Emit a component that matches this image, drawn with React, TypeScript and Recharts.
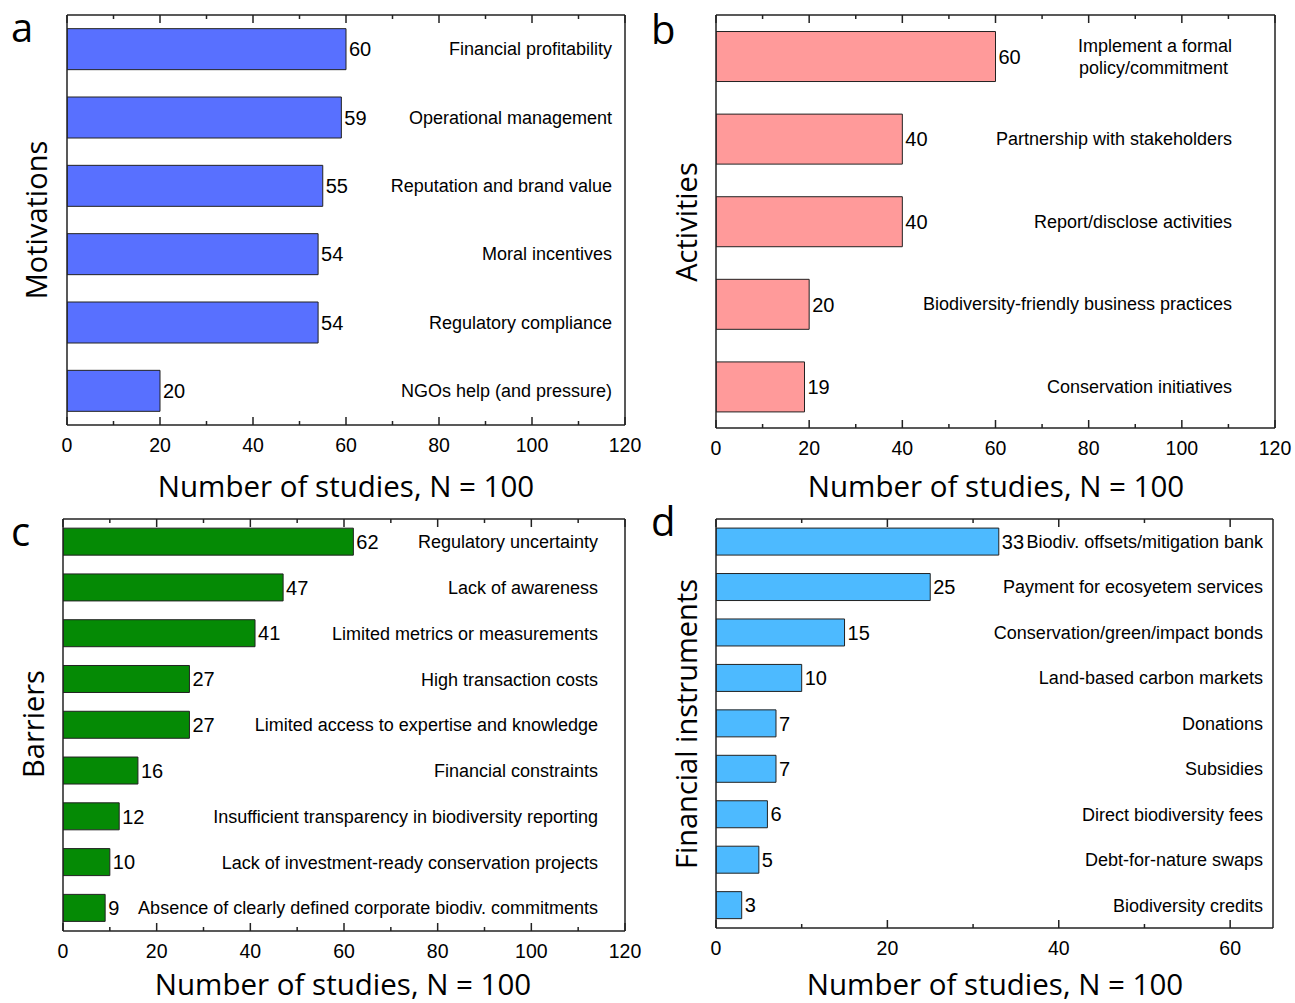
import React from 'react';
import { BarChart, Bar, XAxis, YAxis, LabelList } from 'recharts';

const motivationNames = [
  'Financial profitability',
  'Operational management',
  'Reputation and brand value',
  'Moral incentives',
  'Regulatory compliance',
  'NGOs help (and pressure)',
];
const motivationValues = [60, 59, 55, 54, 54, 20];

const activityNames = [
  'Implement a formal\npolicy/commitment',
  'Partnership with stakeholders',
  'Report/disclose activities',
  'Biodiversity-friendly business practices',
  'Conservation initiatives',
];
const activityValues = [60, 40, 40, 20, 19];

const barrierNames = [
  'Regulatory uncertainty',
  'Lack of awareness',
  'Limited metrics or measurements',
  'High transaction costs',
  'Limited access to expertise and knowledge',
  'Financial constraints',
  'Insufficient transparency in biodiversity reporting',
  'Lack of investment-ready conservation projects',
  'Absence of clearly defined corporate biodiv. commitments',
];
const barrierValues = [62, 47, 41, 27, 27, 16, 12, 10, 9];

const instrumentNames = [
  'Biodiv. offsets/mitigation bank',
  'Payment for ecosyetem services',
  'Conservation/green/impact bonds',
  'Land-based carbon markets',
  'Donations',
  'Subsidies',
  'Direct biodiversity fees',
  'Debt-for-nature swaps',
  'Biodiversity credits',
];
const instrumentValues = [33, 25, 15, 10, 7, 7, 6, 5, 3];

const ticksTo120 = [0, 10, 20, 30, 40, 50, 60, 70, 80, 90, 100, 110, 120];
const ticksTo60 = [0, 10, 20, 30, 40, 50, 60];

const xTitle = 'Number of studies, N = 100';
const FRAME = '#222';
const CHART_FONT = '"Liberation Sans", Arial, sans-serif';
const TITLE_FONT = '"Open Sans", "Liberation Sans", sans-serif';

function BottomTick(props: any) {
  const { x, y, payload } = props;
  const major = payload.value % 20 === 0;
  return (
    <g>
      <line x1={x} x2={x} y1={y} y2={y - (major ? 8 : 4)} stroke={FRAME} strokeWidth={1.5} />
      {major && (
        <text x={x} y={y + 27} textAnchor="middle" fontSize={19.5} fill="#000" fontFamily={CHART_FONT}>
          {payload.value}
        </text>
      )}
    </g>
  );
}

function TopTick(props: any) {
  const { x, y, payload } = props;
  const major = payload.value % 20 === 0;
  return <line x1={x} x2={x} y1={y} y2={y + (major ? 8 : 4)} stroke={FRAME} strokeWidth={1.5} />;
}

function CategoryTick(props: any) {
  const { x, y, payload, inset } = props;
  const lines = String(payload.value).split('\n');
  const gap = 22;
  const start = y - ((lines.length - 1) * gap) / 2;
  return (
    <text textAnchor="end" fontSize={18} fill="#000" fontFamily={CHART_FONT}>
      {lines.map((line, i) => (
        <tspan key={i} x={x - inset - (i > 0 ? 4 : 0)} y={start + i * gap} dy="0.35em">
          {line}
        </tspan>
      ))}
    </text>
  );
}

function ValueLabel(props: any) {
  const { x, y, width, height, value } = props;
  return (
    <text
      x={x + width + 3}
      y={y + height / 2}
      dy="0.36em"
      fontSize={20}
      fill="#000"
      fontFamily={CHART_FONT}
    >
      {value}
    </text>
  );
}

interface PanelProps {
  names: string[];
  values: number[];
  color: string;
  left: number;
  top: number;
  width: number;
  height: number;
  margin: { top: number; right: number; bottom: number; left: number };
  domain: [number, number];
  ticks: number[];
  labelInset: number;
}

// axes take 1px each, so margins are plot edges minus 1
function Panel({ names, values, color, left, top, width, height, margin, domain, ticks, labelInset }: PanelProps) {
  const data = names.map((name, i) => ({ name, value: values[i] }));
  const axisLine = { stroke: FRAME, strokeWidth: 1.5 };
  const m = {
    top: margin.top - 1,
    right: margin.right - 1,
    bottom: margin.bottom - 1,
    left: margin.left - 1,
  };
  return (
    <div style={{ position: 'absolute', left, top }}>
      <BarChart
        width={width}
        height={height}
        data={data}
        layout="vertical"
        margin={m}
        barCategoryGap="20%"
        style={{ fontFamily: CHART_FONT }}
      >
        <XAxis
          xAxisId="bottom"
          type="number"
          orientation="bottom"
          domain={domain}
          ticks={ticks}
          interval={0}
          height={1}
          tickSize={0}
          tickMargin={0}
          tickLine={false}
          axisLine={axisLine}
          allowDataOverflow
          tick={(p: any) => <BottomTick {...p} />}
        />
        <XAxis
          xAxisId="top"
          type="number"
          orientation="top"
          domain={domain}
          ticks={ticks}
          interval={0}
          height={1}
          tickSize={0}
          tickMargin={0}
          tickLine={false}
          axisLine={axisLine}
          allowDataOverflow
          tick={(p: any) => <TopTick {...p} />}
        />
        <YAxis
          yAxisId="left"
          type="category"
          dataKey="name"
          width={1}
          tick={false}
          tickLine={false}
          axisLine={axisLine}
        />
        <YAxis
          yAxisId="right"
          type="category"
          dataKey="name"
          orientation="right"
          width={1}
          interval={0}
          tickSize={0}
          tickMargin={0}
          tickLine={false}
          axisLine={axisLine}
          tick={(p: any) => <CategoryTick {...p} inset={labelInset} />}
        />
        <Bar
          xAxisId="bottom"
          yAxisId="left"
          dataKey="value"
          fill={color}
          stroke="#222"
          strokeWidth={1}
          isAnimationActive={false}
        >
          <LabelList dataKey="value" content={(p: any) => <ValueLabel {...p} />} />
        </Bar>
      </BarChart>
    </div>
  );
}

export default function App() {
  return (
    <div
      style={{
        position: 'absolute',
        left: 0,
        top: 0,
        width: 1295,
        height: 1003,
        overflow: 'hidden',
        background: '#fff',
      }}
    >
      <Panel
        names={motivationNames}
        values={motivationValues}
        color="#5870FF"
        left={0}
        top={0}
        width={647}
        height={505}
        margin={{ top: 15, right: 22, bottom: 80, left: 67 }}
        domain={[0, 120]}
        ticks={ticksTo120}
        labelInset={13}
      />
      <Panel
        names={activityNames}
        values={activityValues}
        color="#FF9A9A"
        left={647}
        top={0}
        width={648}
        height={505}
        margin={{ top: 15, right: 20, bottom: 77, left: 69 }}
        domain={[0, 120]}
        ticks={ticksTo120}
        labelInset={43}
      />
      <Panel
        names={barrierNames}
        values={barrierValues}
        color="#058A05"
        left={0}
        top={505}
        width={647}
        height={498}
        margin={{ top: 14, right: 22, bottom: 72, left: 63 }}
        domain={[0, 120]}
        ticks={ticksTo120}
        labelInset={27}
      />
      <Panel
        names={instrumentNames}
        values={instrumentValues}
        color="#4DBAFF"
        left={647}
        top={505}
        width={648}
        height={498}
        margin={{ top: 14, right: 22, bottom: 75, left: 69 }}
        domain={[0, 65]}
        ticks={ticksTo60}
        labelInset={10}
      />
      <svg
        width={1295}
        height={1003}
        style={{ position: 'absolute', left: 0, top: 0, pointerEvents: 'none' }}
        fontFamily={TITLE_FONT}
      >
        <text x={11} y={42} fontSize={40}>a</text>
        <text x={651} y={44} fontSize={40}>b</text>
        <text x={11} y={546} fontSize={40}>c</text>
        <text x={651} y={536} fontSize={40}>d</text>

        <text x={346} y={497} fontSize={29.5} textAnchor="middle">{xTitle}</text>
        <text x={996} y={497} fontSize={29.5} textAnchor="middle">{xTitle}</text>
        <text x={343} y={995} fontSize={29.5} textAnchor="middle">{xTitle}</text>
        <text x={995} y={995} fontSize={29.5} textAnchor="middle">{xTitle}</text>

        <text transform="translate(47,220) rotate(-90)" fontSize={29} textAnchor="middle">Motivations</text>
        <text transform="translate(697,222) rotate(-90)" fontSize={29} textAnchor="middle">Activities</text>
        <text transform="translate(44,724) rotate(-90)" fontSize={29} textAnchor="middle">Barriers</text>
        <text transform="translate(697,724) rotate(-90)" fontSize={29} textAnchor="middle">Financial instruments</text>
      </svg>
    </div>
  );
}
